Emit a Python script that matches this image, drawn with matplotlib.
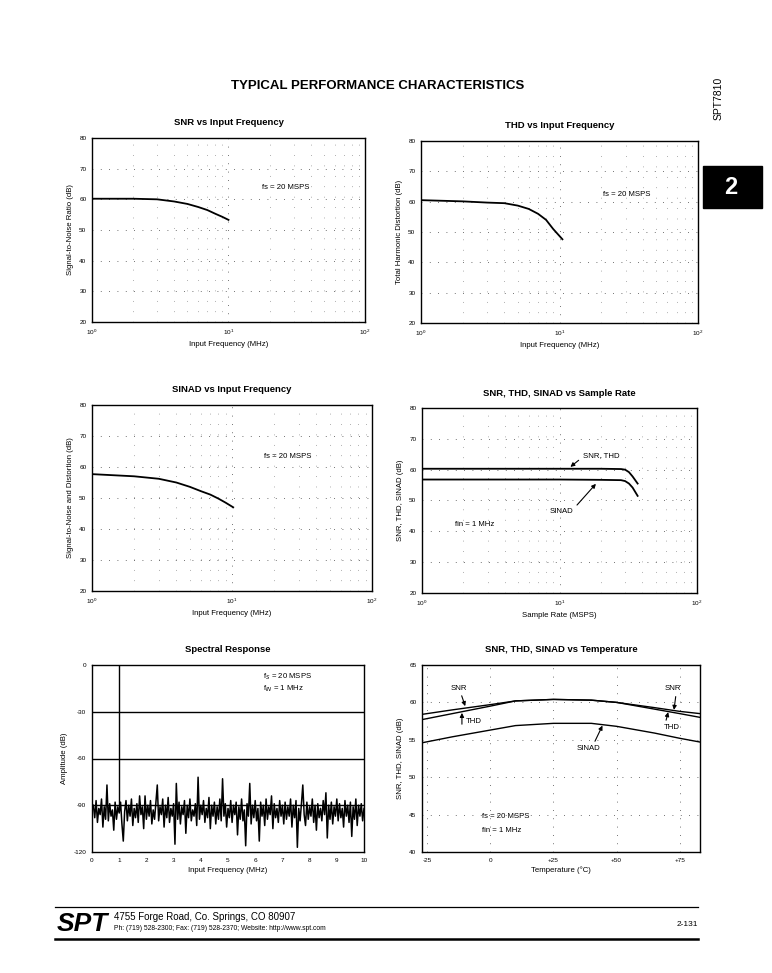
import numpy as np
import matplotlib.pyplot as plt
from matplotlib.patches import Rectangle
from matplotlib.lines import Line2D

plt.rcParams['font.family'] = ['Liberation Sans', 'DejaVu Sans']
plt.rcParams['axes.unicode_minus'] = False

# --- data ---
# SNR vs input frequency (fs = 20 MSPS)
snr_freq = [1, 2, 3, 4, 5, 6, 7, 8, 9, 10]
snr_db = [60.2, 60.2, 60.0, 59.3, 58.5, 57.5, 56.5, 55.3, 54.3, 53.3]

# THD vs input frequency
thd_freq = [1, 2, 3, 4, 5, 6, 7, 8, 9, 10.5]
thd_db = [60.5, 60.1, 59.7, 59.5, 58.7, 57.6, 56.0, 54.0, 51.0, 47.6]

# SINAD vs input frequency
sinad_freq = [1, 2, 3, 4, 5, 6, 7, 8, 9, 10.2]
sinad_db = [57.7, 57.0, 56.2, 55.0, 53.6, 52.2, 51.1, 49.8, 48.5, 47.0]

# SNR/THD and SINAD vs sample rate (fin = 1 MHz)
rate_msps = [1, 10, 20, 28, 30, 32, 34, 37]
rate_snr_thd = [60.3, 60.3, 60.3, 60.2, 60.0, 59.2, 57.8, 55.5]
rate_sinad = [56.8, 56.8, 56.7, 56.6, 56.3, 55.5, 54.2, 51.5]

# spectral response: 1 MHz tone plus noise floor, 0.05 MHz bins
tone_freq = 1.0
tone_db = 0.0
bin_step = 0.05
noise_db = [
    -90, -98, -87, -101, -92, -96, -86, -104, -91, -99, -77, -100, -89, -97, -93, -106, -88, -99, -91, -95,
    -88, -102, -113, -94, -87, -100, -90, -97, -86, -103, -92, -98, -89, -101, -84, -96, -91, -105, -84, -99,
    -90, -97, -87, -102, -93, -99, -88, -77, -100, -91, -96, -86, -104, -90, -98, -85, -101, -92, -97, -89,
    -115, -76, -99, -88, -102, -91, -96, -87, -108, -90, -98, -86, -100, -93, -97, -89, -103, -72, -99, -90,
    -96, -87, -101, -92, -98, -85, -105, -90, -97, -88, -102, -91, -99, -86, -100, -73, -97, -89, -104, -92,
    -98, -87, -101, -90, -96, -88, -109, -91, -99, -86, -100, -93, -116, -89, -97, -76, -102, -90, -98, -87,
    -100, -92, -113, -88, -97, -90, -103, -86, -99, -91, -96, -84, -105, -89, -98, -92, -101, -87, -97, -90,
    -102, -88, -99, -91, -97, -86, -104, -90, -98, -87, -117, -92, -100, -89, -77, -96, -103, -88, -99, -91,
    -97, -86, -101, -90, -106, -89, -98, -92, -100, -87, -96, -82, -111, -90, -99, -88, -102, -91, -97, -86,
    -100, -89, -98, -92, -104, -87, -97, -90, -101, -88, -110, -91, -99, -86, -103, -90, -97, -89, -100, -92,
]
noise_freq = np.arange(1, len(noise_db) + 1) * bin_step

# SNR, THD, SINAD vs temperature (fs = 20 MSPS, fin = 1 MHz)
temp_c = [-27, -15, 0, 10, 25, 40, 50, 65, 75, 83]
temp_snr = [58.4, 59.0, 59.7, 60.2, 60.4, 60.3, 60.0, 59.3, 58.8, 58.5]
temp_thd = [57.7, 58.5, 59.5, 60.2, 60.4, 60.3, 60.0, 59.1, 58.5, 58.0]
temp_sinad = [54.6, 55.4, 56.3, 56.9, 57.2, 57.2, 56.8, 55.9, 55.2, 54.7]

W, H = 772, 973
fig = plt.figure(figsize=(W / 100, H / 100), dpi=100)
fig.patch.set_facecolor('white')


def box(left, top, right, bottom):
    # pixel box -> figure fraction rect
    return [left / W, 1 - bottom / H, (right - left) / W, (bottom - top) / H]


GRID = dict(color='#444444', linestyle=(0, (1, 9)), linewidth=0.6)


def style(ax, title, xlabel, ylabel):
    ax.set_title(title, fontsize=6.8, weight='bold', pad=9)
    ax.set_xlabel(xlabel, fontsize=5.6, labelpad=3)
    ax.set_ylabel(ylabel, fontsize=5.6, labelpad=4)
    ax.tick_params(which='both', labelsize=4.6, length=0, pad=4)
    for s in ax.spines.values():
        s.set_linewidth(1.0)


def log_axes(ax):
    ax.set_xscale('log')
    ax.set_xlim(1, 100)
    ax.set_xticks([1, 10, 100])
    ax.set_ylim(20, 80)
    ax.set_yticks([20, 30, 40, 50, 60, 70, 80])
    ax.grid(True, which='major', **GRID)
    ax.grid(True, which='minor', axis='x', color='#666666',
            linestyle=(0, (1, 14)), linewidth=0.5)


kw_text = dict(fontsize=5.6)

# SNR vs Input Frequency
ax1 = fig.add_axes(box(92, 138, 365, 322))
log_axes(ax1)
ax1.plot(snr_freq, snr_db, color='black', lw=1.3)
ax1.text(17.5, 63.8, 'fs = 20 MSPS', va='center', **kw_text)
style(ax1, 'SNR vs Input Frequency', 'Input Frequency (MHz)', 'Signal-to-Noise Ratio (dB)')

# THD vs Input Frequency
ax2 = fig.add_axes(box(421, 141, 698, 323))
log_axes(ax2)
ax2.plot(thd_freq, thd_db, color='black', lw=1.3)
ax2.text(20.5, 62.2, 'fs = 20 MSPS', va='center', **kw_text)
style(ax2, 'THD vs Input Frequency', 'Input Frequency (MHz)', 'Total Harmonic Distortion (dB)')

# SINAD vs Input Frequency
ax3 = fig.add_axes(box(92, 405, 372, 591))
log_axes(ax3)
ax3.plot(sinad_freq, sinad_db, color='black', lw=1.3)
ax3.text(16.8, 63.5, 'fs = 20 MSPS', va='center', **kw_text)
style(ax3, 'SINAD vs Input Frequency', 'Input Frequency (MHz)',
      'Signal-to-Noise and Distortion (dB)')

# SNR, THD, SINAD vs Sample Rate
ax4 = fig.add_axes(box(422, 408, 697, 593))
log_axes(ax4)
ax4.plot(rate_msps, rate_snr_thd, color='black', lw=1.3)
ax4.plot(rate_msps, rate_sinad, color='black', lw=1.3)
arrow = dict(arrowstyle='-|>', color='black', lw=0.8, mutation_scale=6,
             shrinkA=1, shrinkB=0)
ax4.annotate('SNR, THD', xy=(12.0, 60.9), xytext=(14.7, 64.5), va='center',
             arrowprops=dict(arrow, relpos=(0, 0.3)), **kw_text)
ax4.annotate('SINAD', xy=(18.4, 55.4), xytext=(12.6, 46.5), ha='right', va='center',
             arrowprops=dict(arrow, relpos=(1, 0.8)), **kw_text)
ax4.text(1.74, 42.2, 'fin = 1 MHz', va='center', **kw_text)
style(ax4, 'SNR, THD, SINAD vs Sample Rate', 'Sample Rate (MSPS)', 'SNR, THD, SINAD (dB)')

# Spectral Response
ax5 = fig.add_axes(box(92, 665, 364, 852))
ax5.set_xlim(0, 10)
ax5.set_ylim(-120, 0)
ax5.set_xticks(range(0, 11))
ax5.set_yticks([0, -30, -60, -90, -120])
for lvl in [-30, -60, -90]:
    ax5.axhline(lvl, color='black', lw=1.0)
ax5.plot(noise_freq, noise_db, color='black', lw=1.1)
ax5.vlines(tone_freq, -92, tone_db, color='black', lw=1.0)
ax5.text(6.3, -7.5, 'f$_S$ = 20 MSPS', va='center', **kw_text)
ax5.text(6.3, -15.5, 'f$_{IN}$ = 1 MHz', va='center', **kw_text)
style(ax5, 'Spectral Response', 'Input Frequency (MHz)', 'Amplitude (dB)')

# SNR, THD, SINAD vs Temperature
ax6 = fig.add_axes(box(422, 665, 700, 852))
ax6.set_xlim(-27, 83)
ax6.set_ylim(40, 65)
ax6.set_xticks([-25, 0, 25, 50, 75])
ax6.set_xticklabels(['-25', '0', '+25', '+50', '+75'])
ax6.set_yticks([40, 45, 50, 55, 60, 65])
ax6.grid(True, **GRID)
ax6.plot(temp_c, temp_snr, color='black', lw=1.0)
ax6.plot(temp_c, temp_thd, color='black', lw=1.0)
ax6.plot(temp_c, temp_sinad, color='black', lw=1.0)
ax6.annotate('SNR', xy=(-9.9, 59.5), xytext=(-12.5, 61.9), ha='center', va='center',
             arrowprops=dict(arrow, relpos=(0.6, 0)), **kw_text)
ax6.annotate('', xy=(-11.2, 58.6), xytext=(-11.2, 56.9), arrowprops=arrow)
ax6.text(-9.8, 57.5, 'THD', va='center', **kw_text)
ax6.annotate('SNR', xy=(72.7, 59.0), xytext=(72.3, 61.8), ha='center', va='center',
             arrowprops=dict(arrow, relpos=(0.7, 0)), **kw_text)
ax6.annotate('THD', xy=(70.4, 58.7), xytext=(71.7, 56.6), ha='center', va='center',
             arrowprops=dict(arrow, relpos=(0.1, 1)), **kw_text)
ax6.annotate('SINAD', xy=(44.4, 56.9), xytext=(38.8, 53.8), ha='center', va='center',
             arrowprops=dict(arrow, relpos=(0.7, 1)), **kw_text)
ax6.text(-3.3, 44.7, 'fs = 20 MSPS', va='center', **kw_text)
ax6.text(-3.3, 42.9, 'fin = 1 MHz', va='center', **kw_text)
style(ax6, 'SNR, THD, SINAD vs Temperature', 'Temperature (°C)', 'SNR, THD, SINAD (dB)')

# page decorations
fig.text(378 / W, 1 - 86 / H, 'TYPICAL PERFORMANCE CHARACTERISTICS', ha='center',
         va='center', fontsize=9.5, weight='bold')
fig.text(719 / W, 1 - 98 / H, 'SPT7810', rotation=90, ha='center', va='center',
         fontsize=7.5)
fig.patches.append(Rectangle((703 / W, 1 - 208 / H), 59 / W, 42 / H,
                             transform=fig.transFigure, color='black'))
fig.text(731 / W, 1 - 187 / H, '2', color='white', ha='center', va='center',
         fontsize=17, weight='bold')

fig.lines.append(Line2D([55 / W, 698 / W], [1 - 907 / H] * 2, transform=fig.transFigure,
                        color='black', lw=0.9))
fig.lines.append(Line2D([55 / W, 698 / W], [1 - 939 / H] * 2, transform=fig.transFigure,
                        color='black', lw=1.8))
fig.text(57 / W, 1 - 924 / H, 'SPT', fontsize=19, weight='heavy', style='italic',
         va='center', ha='left')
fig.text(114 / W, 1 - 917 / H, '4755 Forge Road, Co. Springs, CO 80907',
         fontsize=7, va='center')
fig.text(114 / W, 1 - 929 / H,
         'Ph: (719) 528-2300; Fax: (719) 528-2370; Website: http://www.spt.com',
         fontsize=4.9, va='center')
fig.text(698 / W, 1 - 925 / H, '2-131', fontsize=6, ha='right', va='center')

fig.savefig('out.png', dpi=100)
